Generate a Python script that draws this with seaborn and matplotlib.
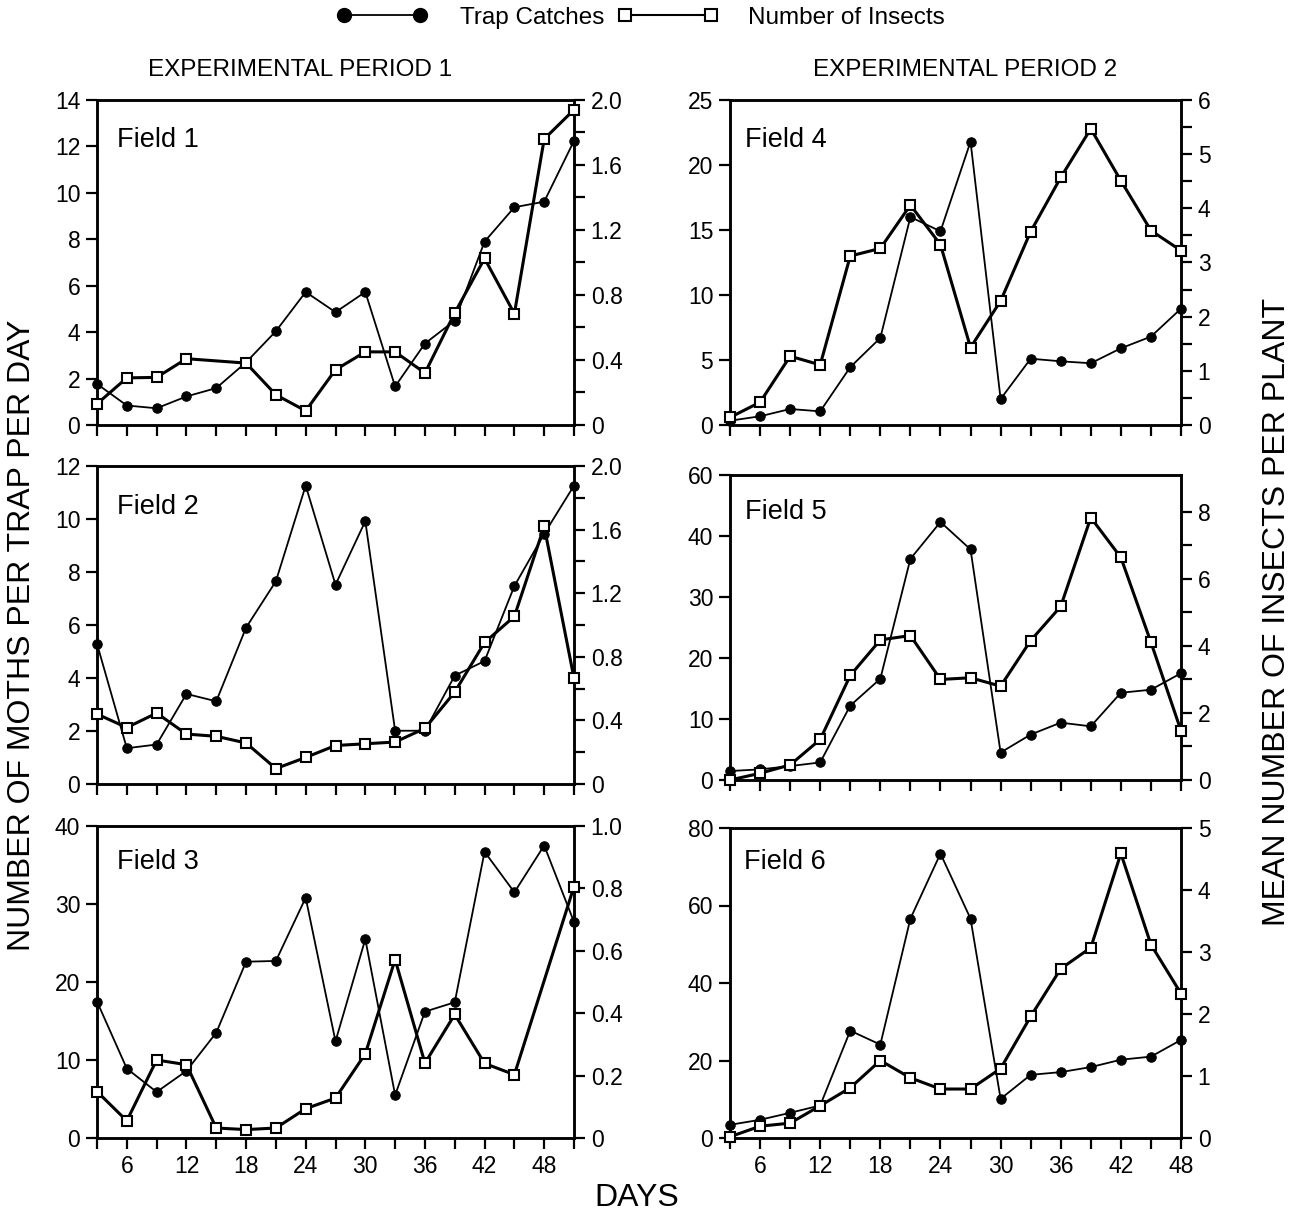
import numpy as np
import pandas as pd
import matplotlib
matplotlib.use("Agg")
import matplotlib.pyplot as plt
from matplotlib.lines import Line2D
import seaborn as sns

# ---------------- data ----------------
days_p1 = [3, 6, 9, 12, 15, 18, 21, 24, 27, 30, 33, 36, 39, 42, 45, 48, 51]
days_p2 = [3, 6, 9, 12, 15, 18, 21, 24, 27, 30, 33, 36, 39, 42, 45, 48]

field1_trap = [1.77, 0.84, 0.72, 1.23, 1.59, 2.7, 4.04, 5.73, 4.86, 5.73, 1.66, 3.51, 4.5, 7.9, 9.38, 9.62, 12.24]
field1_insects = [0.13, 0.29, 0.293, 0.408, np.nan, 0.381, 0.186, 0.087, 0.34, 0.45, 0.45, 0.32, 0.69, 1.025, 0.685, 1.76, 1.94]

field2_trap = [5.29, 1.35, 1.49, 3.4, 3.12, 5.9, 7.65, 11.26, 7.52, 9.92, 2.01, 2.01, 4.09, 4.64, 7.47, 9.44, 11.26]
field2_insects = [0.44, 0.355, 0.446, 0.314, 0.30, 0.258, 0.097, 0.167, 0.242, 0.253, 0.264, 0.35, 0.578, 0.89, 1.054, 1.62, 0.665]

field3_trap = [17.5, 8.9, 5.9, 8.6, 13.5, 22.6, 22.7, 30.8, 12.4, 25.5, 5.5, 16.2, 17.4, 36.7, 31.5, 37.5, 27.7]
field3_insects = [0.149, 0.055, 0.25, 0.235, 0.032, 0.027, 0.032, 0.094, 0.128, 0.27, 0.572, 0.24, 0.396, 0.239, 0.203, np.nan, 0.806]

field4_trap = [0.33, 0.67, 1.23, 1.05, 4.45, 6.7, 16.0, 14.9, 21.8, 2.0, 5.1, 4.9, 4.75, 5.9, 6.8, 8.95]
field4_insects = [0.14, 0.42, 1.27, 1.11, 3.12, 3.26, 4.06, 3.33, 1.43, 2.29, 3.57, 4.57, 5.47, 4.51, 3.59, 3.22]

field5_trap = [1.47, 1.74, 2.28, 2.88, 12.2, 16.6, 36.25, 42.3, 37.8, 4.5, 7.45, 9.4, 8.8, 14.3, 14.8, 17.5]
field5_insects = [0.0, 0.2, 0.45, 1.21, 3.12, 4.18, 4.31, 3.0, 3.05, 2.8, 4.16, 5.18, 7.83, 6.64, 4.11, 1.47]

field6_trap = [3.4, 4.7, 6.5, 8.4, 27.7, 24.1, 56.6, 73.4, 56.6, 10.1, 16.3, 17.0, 18.3, 20.2, 21.0, 25.3]
field6_insects = [0.02, 0.19, 0.24, 0.52, 0.81, 1.25, 0.97, 0.79, 0.79, 1.12, 1.96, 2.73, 3.07, 4.59, 3.12, 2.33]

field_names = ["Field 1", "Field 2", "Field 3", "Field 4", "Field 5", "Field 6"]

# left-axis ticks / labels (Field 5 top label printed as "60" in the original)
left_ticks = [
    [0, 2, 4, 6, 8, 10, 12, 14],
    [0, 2, 4, 6, 8, 10, 12],
    [0, 10, 20, 30, 40],
    [0, 5, 10, 15, 20, 25],
    [0, 10, 20, 30, 40, 50],
    [0, 20, 40, 60, 80],
]
left_labels = [
    ["0", "2", "4", "6", "8", "10", "12", "14"],
    ["0", "2", "4", "6", "8", "10", "12"],
    ["0", "10", "20", "30", "40"],
    ["0", "5", "10", "15", "20", "25"],
    ["0", "10", "20", "30", "40", "60"],
    ["0", "20", "40", "60", "80"],
]
right_ticks = [
    [0, 0.4, 0.8, 1.2, 1.6, 2.0],
    [0, 0.4, 0.8, 1.2, 1.6, 2.0],
    [0, 0.2, 0.4, 0.6, 0.8, 1.0],
    [0, 1, 2, 3, 4, 5, 6],
    [0, 2, 4, 6, 8],
    [0, 1, 2, 3, 4, 5],
]
right_labels = [
    ["0", "0.4", "0.8", "1.2", "1.6", "2.0"],
    ["0", "0.4", "0.8", "1.2", "1.6", "2.0"],
    ["0", "0.2", "0.4", "0.6", "0.8", "1.0"],
    ["0", "1", "2", "3", "4", "5", "6"],
    ["0", "2", "4", "6", "8"],
    ["0", "1", "2", "3", "4", "5"],
]
right_minor = [
    [0.2, 0.6, 1.0, 1.4, 1.8],
    [0.2, 0.6, 1.0, 1.4, 1.8],
    [],
    [0.5, 1.5, 2.5, 3.5, 4.5, 5.5],
    [1, 3, 5, 7],
    [],
]
left_lim = [(0, 14), (0, 12), (0, 40), (0, 25), (0, 50), (0, 80)]
right_lim = [(0, 2.0), (0, 2.0), (0, 1.0), (0, 6), (0, 9.1), (0, 5)]

# ---------------- style ----------------
sns.set_style("ticks")
plt.rcParams["font.family"] = ["Liberation Sans", "DejaVu Sans"]
plt.rcParams["text.color"] = "black"
plt.rcParams["axes.labelcolor"] = "black"
plt.rcParams["axes.linewidth"] = 1.8
plt.rcParams["xtick.major.width"] = 1.6
plt.rcParams["ytick.major.width"] = 1.6
plt.rcParams["ytick.minor.width"] = 1.6
plt.rcParams["xtick.major.size"] = 8
plt.rcParams["ytick.major.size"] = 8
plt.rcParams["ytick.minor.size"] = 8

W, H = 1305, 1219
fig = plt.figure(figsize=(W / 100, H / 100), dpi=100)


def box(x0, x1, y0, y1):
    return [x0 / W, 1 - y1 / H, (x1 - x0) / W, (y1 - y0) / H]


positions = [
    box(97, 574, 100, 425),
    box(97, 574, 466, 784),
    box(97, 574, 826, 1138),
    box(730, 1181, 100, 425),
    box(730, 1181, 475, 780),
    box(730, 1181, 828, 1138),
]
label_pos = [(0.042, 0.877), (0.042, 0.87), (0.042, 0.885),
             (0.033, 0.877), (0.033, 0.88), (0.03, 0.89)]

traps = [field1_trap, field2_trap, field3_trap, field4_trap, field5_trap, field6_trap]
insects = [field1_insects, field2_insects, field3_insects,
           field4_insects, field5_insects, field6_insects]

TICK_FS = 16.5
for i in range(6):
    days = days_p1 if i < 3 else days_p2
    ax = fig.add_axes(positions[i])
    ax2 = ax.twinx()
    df = pd.DataFrame({"day": days, "trap": traps[i], "ins": insects[i]})
    d_trap = df.dropna(subset=["trap"])
    d_ins = df.dropna(subset=["ins"])

    sns.lineplot(data=d_trap, x="day", y="trap", ax=ax, color="black",
                 linewidth=1.3, marker="o", markersize=6.8,
                 markerfacecolor="black", markeredgecolor="black",
                 clip_on=False, zorder=3)
    sns.lineplot(data=d_ins, x="day", y="ins", ax=ax2, color="black",
                 linewidth=2.2, marker="s", markersize=7.8,
                 markerfacecolor="white", markeredgecolor="black",
                 markeredgewidth=1.5, clip_on=False, zorder=4)

    ax.set_xlim(days[0], days[-1])
    ax.set_ylim(*left_lim[i])
    ax2.set_ylim(*right_lim[i])
    ax.set_xticks(days)
    if i in (2, 5):
        ax.set_xticklabels([str(d) if d % 6 == 0 else "" for d in days], fontsize=TICK_FS)
    else:
        ax.set_xticklabels([])
    ax.set_yticks(left_ticks[i])
    ax.set_yticklabels(left_labels[i], fontsize=TICK_FS)
    ax2.set_yticks(right_ticks[i])
    ax2.set_yticklabels(right_labels[i], fontsize=TICK_FS)
    ax2.set_yticks(right_minor[i], minor=True)
    ax.set_xlabel("")
    ax.set_ylabel("")
    ax2.set_ylabel("")
    for a in (ax, ax2):
        a.tick_params(which="both", direction="out", colors="black", pad=4)
        for s in a.spines.values():
            s.set_visible(True)
            s.set_color("black")
    ax.text(label_pos[i][0], label_pos[i][1], field_names[i], transform=ax.transAxes,
            fontsize=19.5, ha="left", va="center", color="black")

# column headings
fig.text(300 / W, 1 - 70 / H, "EXPERIMENTAL PERIOD 1", fontsize=17.5,
         ha="center", va="center")
fig.text(965 / W, 1 - 70 / H, "EXPERIMENTAL PERIOD 2", fontsize=17.5,
         ha="center", va="center")

# axis titles
fig.text(22 / W, 1 - 635 / H, "NUMBER OF MOTHS PER TRAP PER DAY",
         fontsize=23, rotation=90, ha="center", va="center")
fig.text(1277 / W, 1 - 612 / H, "MEAN NUMBER OF INSECTS PER PLANT",
         fontsize=23, rotation=90, ha="center", va="center")
fig.text(637 / W, 1 - 1198 / H, "DAYS", fontsize=23, ha="center", va="center")

# legend (two entries, each placed separately)
LEG_FS = 17.5
h1 = Line2D([0], [0], color="black", lw=1.3, marker="o", markersize=10,
            markerfacecolor="black")
h2 = Line2D([0], [0], color="black", lw=1.5, marker="s", markersize=8,
            markerfacecolor="white", markeredgewidth=1.5)
fig.legend([h1], ["Trap Catches"], loc="center left",
           bbox_to_anchor=(337 / W, 1 - 18 / H), frameon=False,
           numpoints=2, handlelength=3.7, fontsize=LEG_FS,
           handletextpad=1.36, borderpad=0, borderaxespad=0)
fig.legend([h2], ["Number of Insects"], loc="center left",
           bbox_to_anchor=(618 / W, 1 - 18 / H), frameon=False,
           numpoints=2, handlelength=4.12, fontsize=LEG_FS,
           handletextpad=1.23, borderpad=0, borderaxespad=0)

fig.savefig("out.png", dpi=100)
